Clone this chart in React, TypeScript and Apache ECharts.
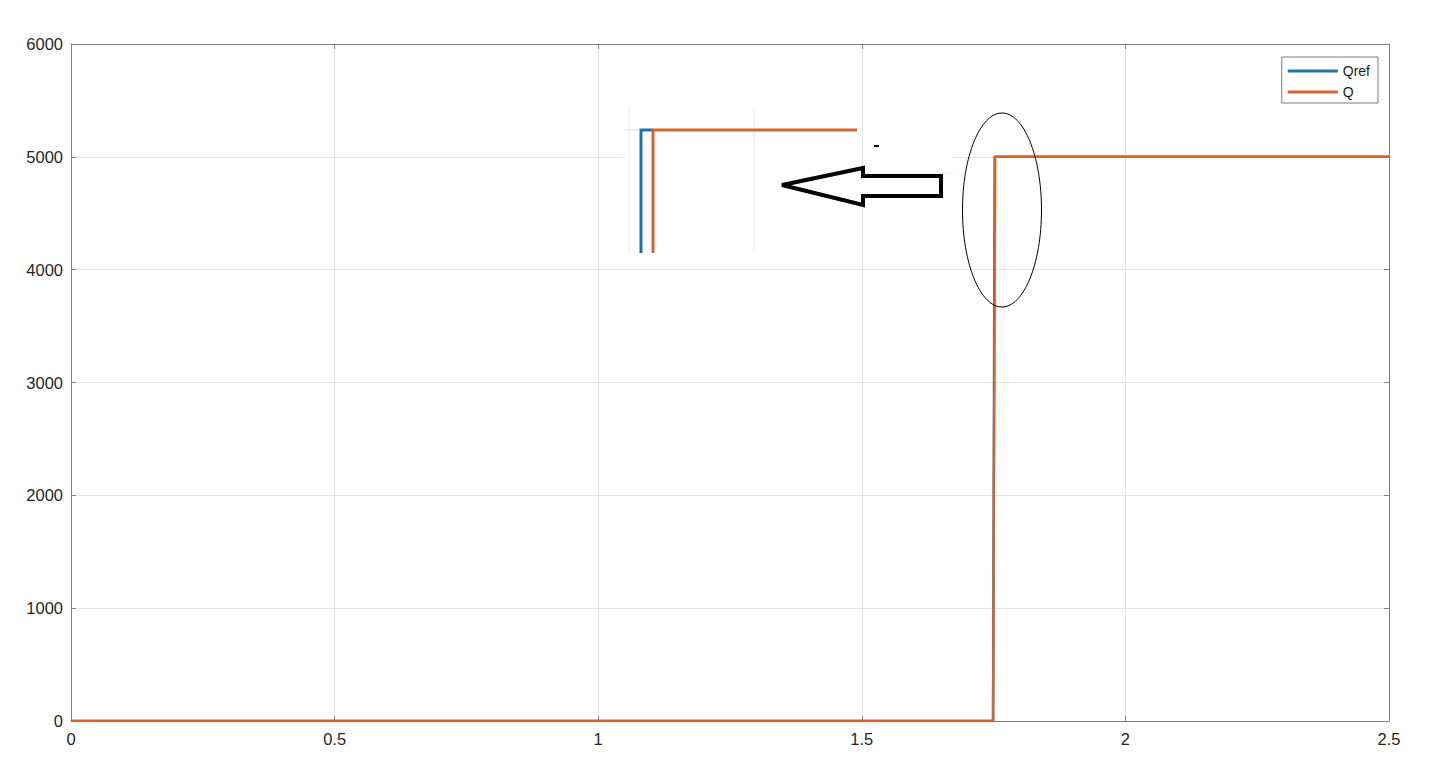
import React, { useEffect, useRef } from "react";
import * as echarts from "echarts";

const xTicks = [0, 0.5, 1, 1.5, 2, 2.5];
const yTicks = [0, 1000, 2000, 3000, 4000, 5000, 6000];
const qrefData: [number, number][] = [
  [0, 0],
  [1.749, 0],
  [1.752, 5000],
  [2.5, 5000],
];
const qData: [number, number][] = [
  [0, 0],
  [1.749, 0],
  [1.753, 5000],
  [2.5, 5000],
];
const seriesNames = ["Qref", "Q"];
const seriesColors = ["#1b74a8", "#d5652f"];

const FONT = "'Liberation Sans', Arial, sans-serif";
const GRID_C = "#e3e3e3";
const AXIS_C = "#808080";

export default function App() {
  const ref = useRef<HTMLDivElement>(null);
  useEffect(() => {
    if (!ref.current) return;
    const chart = echarts.init(ref.current, undefined, { renderer: "svg" });
    const fmt = (v: number) => String(v);
    const option: any = {
      animation: false,
      backgroundColor: "#ffffff",
      grid: { left: 71, right: 46, top: 44, bottom: 58, containLabel: false },
      legend: {
        data: seriesNames,
        orient: "vertical",
        right: 57,
        top: 57,
        icon: "rect",
        itemWidth: 50,
        itemHeight: 3,
        itemGap: 7,
        itemStyle: { borderWidth: 0 },
        padding: [7, 8, 4, 6],
        backgroundColor: "#ffffff",
        borderColor: "#7a7a7a",
        borderWidth: 1,
        borderRadius: 0,
        textStyle: { fontFamily: FONT, fontSize: 14, color: "#1a1a1a", padding: [0, 0, 0, 0] },
        itemTextGap: 5,
      },
      xAxis: [
        {
          type: "value",
          min: xTicks[0],
          max: xTicks[xTicks.length - 1],
          interval: 0.5,
          axisLine: { show: true, onZero: false, lineStyle: { color: AXIS_C, width: 1 } },
          axisTick: { show: true, inside: true, length: 5, lineStyle: { color: AXIS_C } },
          axisLabel: { fontFamily: FONT, fontSize: 16.5, color: "#262626", margin: 9, formatter: fmt },
          splitLine: { show: true, lineStyle: { color: GRID_C, width: 1 } },
        },
        {
          type: "value",
          position: "top",
          min: xTicks[0],
          max: xTicks[xTicks.length - 1],
          interval: 0.5,
          axisLine: { show: true, onZero: false, lineStyle: { color: AXIS_C, width: 1 } },
          axisTick: { show: true, inside: true, length: 5, lineStyle: { color: AXIS_C } },
          axisLabel: { show: false },
          splitLine: { show: false },
        },
      ],
      yAxis: [
        {
          type: "value",
          min: yTicks[0],
          max: yTicks[yTicks.length - 1],
          interval: 1000,
          axisLine: { show: true, onZero: false, lineStyle: { color: AXIS_C, width: 1 } },
          axisTick: { show: true, inside: true, length: 5, lineStyle: { color: AXIS_C } },
          axisLabel: { fontFamily: FONT, fontSize: 16.5, color: "#262626", margin: 8, formatter: fmt },
          splitLine: { show: true, lineStyle: { color: GRID_C, width: 1 } },
        },
        {
          type: "value",
          position: "right",
          min: yTicks[0],
          max: yTicks[yTicks.length - 1],
          interval: 1000,
          axisLine: { show: true, onZero: false, lineStyle: { color: AXIS_C, width: 1 } },
          axisTick: { show: true, inside: true, length: 5, lineStyle: { color: AXIS_C } },
          axisLabel: { show: false },
          splitLine: { show: false },
        },
      ],
      series: [
        {
          name: seriesNames[0],
          type: "line",
          data: qrefData,
          showSymbol: false,
          symbol: "none",
          color: seriesColors[0],
          lineStyle: { color: seriesColors[0], width: 2.5 },
          z: 2,
        },
        {
          name: seriesNames[1],
          type: "line",
          data: qData,
          showSymbol: false,
          symbol: "none",
          color: seriesColors[1],
          lineStyle: { color: seriesColors[1], width: 2.5 },
          z: 3,
        },
      ],
      graphic: [
        // inset background
        { type: "rect", z: 100, shape: { x: 625, y: 107, width: 233, height: 147 }, style: { fill: "#ffffff" } },
        { type: "line", z: 101, shape: { x1: 629, y1: 107, x2: 629, y2: 253 }, style: { stroke: "#ececec", lineWidth: 1 } },
        { type: "line", z: 101, shape: { x1: 754, y1: 107, x2: 754, y2: 253 }, style: { stroke: "#ececec", lineWidth: 1 } },
        { type: "line", z: 101, shape: { x1: 625, y1: 130, x2: 641, y2: 130 }, style: { stroke: "#dcdcdc", lineWidth: 1 } },
        {
          type: "polyline", z: 102,
          shape: { points: [[641, 253], [641, 130], [653, 130]] },
          style: { stroke: seriesColors[0], lineWidth: 3, fill: "none" },
        },
        {
          type: "polyline", z: 103,
          shape: { points: [[653, 253], [653, 130], [857, 130]] },
          style: { stroke: seriesColors[1], lineWidth: 3, fill: "none" },
        },
        // hide the 5000 gridline behind the arrow
        { type: "line", z: 100, shape: { x1: 858, y1: 157, x2: 953, y2: 157 }, style: { stroke: "#ffffff", lineWidth: 3 } },
        { type: "line", z: 101, shape: { x1: 862.5, y1: 154, x2: 862.5, y2: 160 }, style: { stroke: GRID_C, lineWidth: 1 } },
        { type: "line", z: 101, shape: { x1: 840, y1: 173, x2: 953, y2: 173 }, style: { stroke: "#eeeeee", lineWidth: 1 } },
        // arrow
        {
          type: "polygon", z: 104,
          shape: { points: [[782, 185], [863, 168], [863, 176], [941, 176], [941, 196], [863, 196], [863, 205]] },
          style: { fill: "#ffffff", stroke: "#000000", lineWidth: 4, lineJoin: "miter" },
        },
        { type: "line", z: 104, shape: { x1: 874, y1: 146, x2: 879, y2: 146 }, style: { stroke: "#000000", lineWidth: 2 } },
        // ellipse
        {
          type: "ellipse", z: 104,
          shape: { cx: 1002, cy: 210, rx: 39.5, ry: 97 },
          style: { fill: "none", stroke: "#000000", lineWidth: 1 },
        },
      ],
    };
    chart.setOption(option);
    return () => chart.dispose();
  }, []);
  return (
    <div
      ref={ref}
      style={{ position: "fixed", left: 0, top: 0, width: 1435, height: 779, background: "#fff" }}
    />
  );
}
